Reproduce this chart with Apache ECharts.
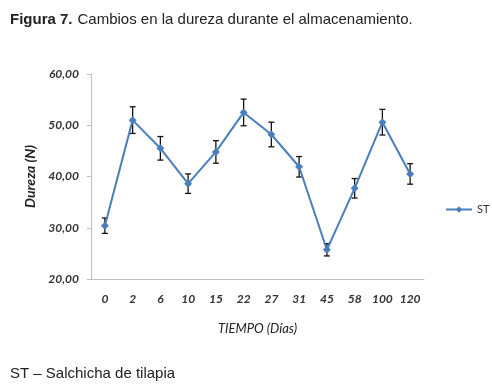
<!DOCTYPE html>
<html>
<head>
<meta charset="utf-8">
<script src="https://cdn.jsdelivr.net/npm/echarts@6/dist/echarts.min.js"></script>
<style>
  html, body { margin: 0; padding: 0; background: #fff; }
  #durezaChart { width: 492px; height: 389px; }
</style>
</head>
<body>
<div id="durezaChart"></div>
<script>
// days of storage (x categories)
var dias = ['0', '2', '6', '10', '15', '22', '27', '31', '45', '58', '100', '120'];
// hardness, N (ST)
var dureza = [30.4, 51.0, 45.5, 38.6, 44.8, 52.5, 48.2, 41.9, 25.7, 37.7, 50.6, 40.5];
// +/- error per point
var errores = [1.5, 2.6, 2.3, 1.9, 2.2, 2.6, 2.4, 2.0, 1.2, 1.9, 2.5, 2.0];
var yTicks = [20, 30, 40, 50, 60];

var axisFont = 'Lato, "Open Sans", sans-serif';
var textFont = '"Liberation Sans Narrow", "Liberation Sans", Arial, sans-serif';

var errData = dureza.map(function (v, i) {
  return [i, v - errores[i], v + errores[i]];
});

var chart = echarts.init(document.getElementById('durezaChart'));
chart.setOption({
  animation: false,
  title: [{
    text: '{b|Figura 7.} {n|Cambios en la dureza durante el almacenamiento.}',
    left: 5,
    top: 6,
    textStyle: {
      fontWeight: 'normal',
      rich: {
        b: { fontFamily: textFont, fontWeight: 'bold', fontSize: 15, color: '#222' },
        n: { fontFamily: textFont, fontWeight: 'normal', fontSize: 15, color: '#222' }
      }
    }
  }, {
    text: 'ST \u2013 Salchicha de tilapia',
    left: 5,
    top: 361,
    textStyle: { fontFamily: textFont, fontWeight: 'normal', fontSize: 15, color: '#222' }
  }],
  legend: {
    data: ['ST'],
    left: 440,
    top: 199,
    itemWidth: 26,
    itemHeight: 8,
    itemGap: 4,
    textStyle: { fontFamily: axisFont, fontSize: 11, color: '#333' }
  },
  grid: { left: 91, right: 68, top: 74, bottom: 110 },
  xAxis: {
    type: 'category',
    data: dias,
    name: 'TIEMPO (Días)',
    nameLocation: 'middle',
    nameGap: 43,
    nameTextStyle: { fontFamily: axisFont, fontStyle: 'italic', fontWeight: 'normal', fontSize: 13, color: '#222' },
    axisLine: { lineStyle: { color: '#bfbfbf' } },
    axisTick: { length: 4, lineStyle: { color: '#bfbfbf' } },
    axisLabel: { fontFamily: axisFont, fontStyle: 'italic', fontWeight: 'bold', fontSize: 12, color: '#333', margin: 14 }
  },
  yAxis: {
    type: 'value',
    min: yTicks[0],
    max: yTicks[yTicks.length - 1],
    interval: 10,
    name: 'Dureza (N)',
    nameLocation: 'middle',
    nameRotate: 90,
    nameGap: 54,
    nameTextStyle: { fontFamily: axisFont, fontStyle: 'italic', fontWeight: 'bold', fontSize: 14, color: '#222' },
    splitLine: { show: false },
    axisLine: { show: true, lineStyle: { color: '#bfbfbf' } },
    axisTick: { show: true, length: 4, lineStyle: { color: '#bfbfbf' } },
    axisLabel: {
      fontFamily: axisFont, fontStyle: 'italic', fontWeight: 'bold', fontSize: 12, color: '#333', margin: 12,
      formatter: function (v) { return v.toFixed(2).replace('.', ','); }
    }
  },
  series: [{
    name: 'ST',
    type: 'line',
    data: dureza,
    symbol: 'diamond',
    symbolSize: 8,
    lineStyle: { color: '#4a7ebb', width: 2 },
    itemStyle: { color: '#4a7ebb' },
    z: 3
  }, {
    name: 'err',
    type: 'custom',
    data: errData,
    z: 2,
    renderItem: function (params, api) {
      var x = api.value(0);
      var lo = api.coord([x, api.value(1)]);
      var hi = api.coord([x, api.value(2)]);
      var cap = 3;
      var st = { stroke: '#111', lineWidth: 1.3 };
      return {
        type: 'group',
        children: [
          { type: 'line', shape: { x1: hi[0], y1: hi[1], x2: lo[0], y2: lo[1] }, style: st },
          { type: 'line', shape: { x1: hi[0] - cap, y1: hi[1], x2: hi[0] + cap, y2: hi[1] }, style: st },
          { type: 'line', shape: { x1: lo[0] - cap, y1: lo[1], x2: lo[0] + cap, y2: lo[1] }, style: st }
        ]
      };
    }
  }]
});
</script>
</body>
</html>
